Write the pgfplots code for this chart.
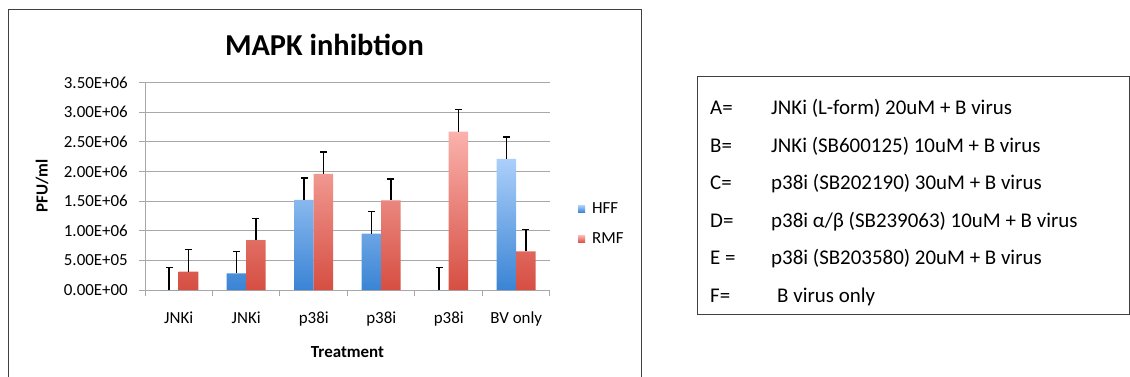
\documentclass[border=0pt]{standalone}
\usepackage{pgfplots}
\pgfplotsset{compat=1.18}
\usepackage{pgfplotstable}
\usepackage{fontspec}
\setmainfont{Carlito}
\definecolor{hfftop}{RGB}{172,207,250}
\definecolor{hffbot}{RGB}{58,132,212}
\definecolor{rmftop}{RGB}{250,178,172}
\definecolor{rmfbot}{RGB}{214,78,66}
\definecolor{gridgray}{RGB}{168,168,168}
\pgfplotstableread{
x   xh      xr      hff     hfferr  rmf     rmferr
0.5 0.3556  0.6444  0       380000  310000  370000
1.5 1.3556  1.6444  280000  370000  840000  370000
2.5 2.3556  2.6444  1520000 370000  1960000 370000
3.5 3.3556  3.6444  950000  370000  1510000 360000
4.5 4.3556  4.6444  0       380000  2670000 370000
5.5 5.3556  5.6444  2210000 370000  650000  370000
}\datatab
\begin{document}
\begin{tikzpicture}
\useasboundingbox (0,0) rectangle (1130bp,377bp);
\draw[line width=1bp, black!75] (8bp,-2bp) -- (8bp,367bp) -- (641bp,367bp) -- (641bp,-2bp);
\begin{axis}[
  at={(145bp,87bp)}, anchor=south west, scale only axis,
  width=405bp, height=207.5bp,
  xmin=0, xmax=6, ymin=0, ymax=3500000,
  axis x line*=bottom, axis y line*=left,
  axis line style={-, gridgray, line width=1bp},
  xtick={0.5,1.5,2.5,3.5,4.5,5.5},
  xticklabels={JNKi,JNKi,p38i,p38i,p38i,BV only},
  minor xtick={0,1,2,3,4,5,6},
  major x tick style={draw=none},
  minor x tick style={gridgray, line width=1bp},
  minor tick length=6bp,
  major tick length=6bp,
  y tick style={gridgray, line width=1bp},
  tick align=outside,
  ytick={0,500000,1000000,1500000,2000000,2500000,3000000,3500000},
  yticklabels={0.00E+00,5.00E+05,1.00E+06,1.50E+06,2.00E+06,2.50E+06,3.00E+06,3.50E+06},
  scaled y ticks=false,
  ymajorgrids, grid style={gridgray, line width=1bp},
  ticklabel style={font=\fontsize{17}{20}\selectfont, text=black},
  yticklabel style={anchor=east, inner sep=0pt, xshift=-11bp},
  xticklabel style={anchor=base, inner sep=0pt, yshift=-27bp},
  title={MAPK inhibtion},
  every axis title shift=0pt,
  title style={at={(axis description cs:0.443,1.1325)}, anchor=base, inner sep=0pt, font=\bfseries\fontsize{30.5}{34}\selectfont},
  xlabel={Treatment},
  ylabel={PFU/ml},
  every axis x label/.style={at={(axis description cs:0.5,-0.299)}, anchor=center, font=\bfseries\fontsize{17}{20}\selectfont},
  every axis y label/.style={at={(axis description cs:-0.2543,0.5)}, rotate=90, anchor=center, font=\bfseries\fontsize{17}{20}\selectfont},
  legend style={at={(1.069,0.318)}, anchor=west, draw=none, fill=none, inner sep=0pt, row sep=14bp, font=\fontsize{17}{20}\selectfont, nodes={inner sep=2bp},
    /tikz/every odd column/.append style={column sep=5bp}},
  legend cell align=left,
  clip=false,
]
\addplot[ybar, bar width=19.5bp, bar shift=-9.75bp, draw=none, top color=hfftop, bottom color=hffbot,
  legend image code/.code={\shade[top color=hfftop, bottom color=hffbot] (0bp,-3.5bp) rectangle (7bp,3.5bp);}]
  table[x=x, y=hff] {\datatab};
\addlegendentry{HFF}
\addplot[ybar, bar width=19.5bp, bar shift=9.75bp, draw=none, top color=rmftop, bottom color=rmfbot,
  legend image code/.code={\shade[top color=rmftop, bottom color=rmfbot] (0bp,-3.5bp) rectangle (7bp,3.5bp);}]
  table[x=x, y=rmf] {\datatab};
\addlegendentry{RMF}
\addplot[draw=none, mark=none, forget plot,
  error bars/.cd, y dir=plus, y explicit,
  error bar style={draw=black, line width=1.4bp},
  error mark options={draw=black, rotate=90, mark size=3.5bp, line width=1.4bp}]
  table[x=xh, y=hff, y error=hfferr] {\datatab};
\addplot[draw=none, mark=none, forget plot,
  error bars/.cd, y dir=plus, y explicit,
  error bar style={draw=black, line width=1.4bp},
  error mark options={draw=black, rotate=90, mark size=3.5bp, line width=1.4bp}]
  table[x=xr, y=rmf, y error=rmferr] {\datatab};
\end{axis}
\draw[line width=1bp, black!75] (697bp,62bp) rectangle (1129.5bp,300bp);
\begin{scope}[every node/.style={anchor=base west, inner sep=0pt, font=\fontsize{21}{25}\selectfont}]
\node at (710bp,262.5bp) {A=};
\node at (771bp,262.5bp) {JNKi (L-form) 20uM + B virus};
\node at (710bp,224.9bp) {B=};
\node at (771bp,224.9bp) {JNKi (SB600125) 10uM + B virus};
\node at (710bp,187.3bp) {C=};
\node at (771bp,187.3bp) {p38i (SB202190) 30uM + B virus};
\node at (710bp,149.7bp) {D=};
\node at (771bp,149.7bp) {p38i α/β (SB239063) 10uM + B virus};
\node at (710bp,112.1bp) {E =};
\node at (771bp,112.1bp) {p38i (SB203580) 20uM + B virus};
\node at (710bp,74.5bp) {F=};
\node at (777bp,74.5bp) {B virus only};
\end{scope}
\end{tikzpicture}
\end{document}
